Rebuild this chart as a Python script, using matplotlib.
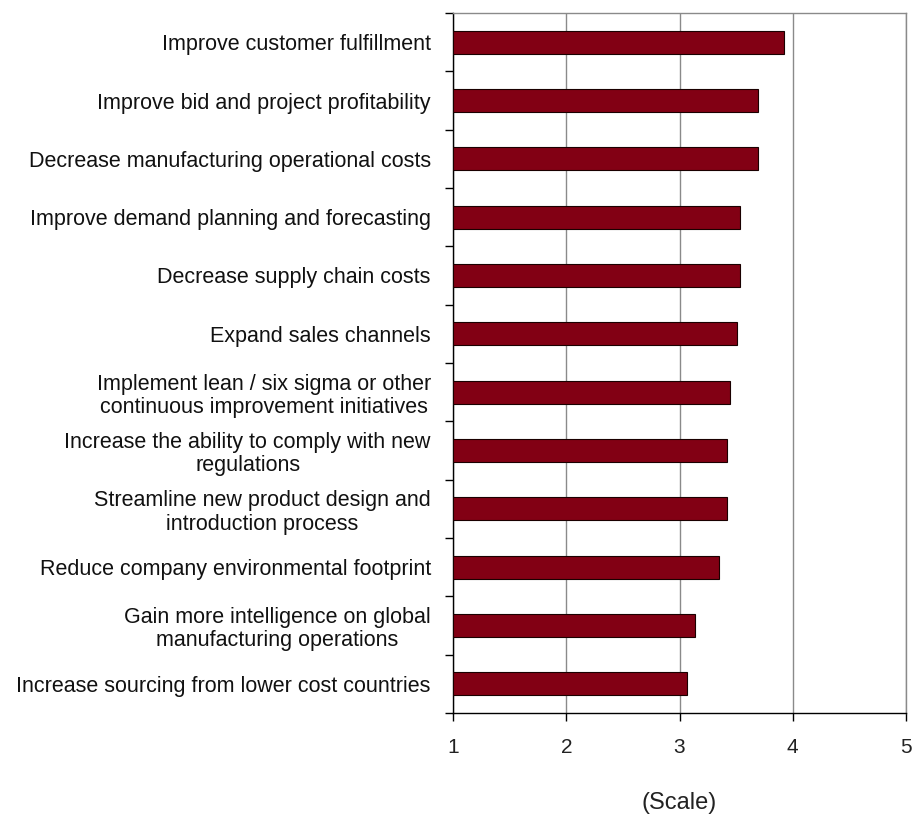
import matplotlib
matplotlib.use("Agg")
import matplotlib.pyplot as plt
import numpy as np

categories = [
    "Improve customer fulfillment",
    "Improve bid and project profitability",
    "Decrease manufacturing operational costs",
    "Improve demand planning and forecasting",
    "Decrease supply chain costs",
    "Expand sales channels",
    "Implement lean / six sigma or other\ncontinuous improvement initiatives",
    "Increase the ability to comply with new\nregulations",
    "Streamline new product design and\nintroduction process",
    "Reduce company environmental footprint",
    "Gain more intelligence on global\nmanufacturing operations",
    "Increase sourcing from lower cost countries",
]
values = [3.92, 3.69, 3.69, 3.53, 3.53, 3.51, 3.45, 3.42, 3.42, 3.35, 3.14, 3.07]
x_ticks = [1, 2, 3, 4, 5]
x_label = "(Scale)"

plt.rcParams['font.family'] = ['Liberation Sans', 'DejaVu Sans']

fig = plt.figure(figsize=(9.15, 8.23), dpi=100)
ax = fig.add_axes([453/915, 1 - 713/823, (906-453)/915, (713-13)/823])

n = len(categories)
y = np.arange(n)
ax.barh(y, [v - 1 for v in values], left=1, height=0.39, color='#820014',
        edgecolor='#1a0000', linewidth=0.8, zorder=3)

ax.set_xlim(1, 5)
ax.set_ylim(n - 0.5, -0.5)
ax.set_xticks(x_ticks)
ax.set_xticklabels([str(t) for t in x_ticks], fontsize=15, color='#222222')
ax.set_yticks(y)
ax.set_yticklabels(categories, fontsize=15.5, multialignment='center', color='#111111',
                   linespacing=1.15)
ax.set_yticks(np.arange(-0.5, n, 1), minor=True)

ax.tick_params(axis='y', which='major', length=0, pad=16)
ax.tick_params(axis='y', which='minor', length=6, width=1, color='black', direction='out')
ax.tick_params(axis='x', which='major', length=6, width=1, color='black', direction='out', pad=12)

ax.grid(axis='x', color='#8a8a8a', linewidth=1, zorder=0)
ax.spines['top'].set_color('#8a8a8a')
ax.spines['right'].set_color('#8a8a8a')
ax.spines['left'].set_color('black')
ax.spines['bottom'].set_color('black')
for s in ax.spines.values():
    s.set_linewidth(1)

ax.text(0.5, (713 - 803) / 700, x_label, transform=ax.transAxes, ha='center', va='center',
        fontsize=17, color='#222222')

fig.savefig('out.png', dpi=100)
